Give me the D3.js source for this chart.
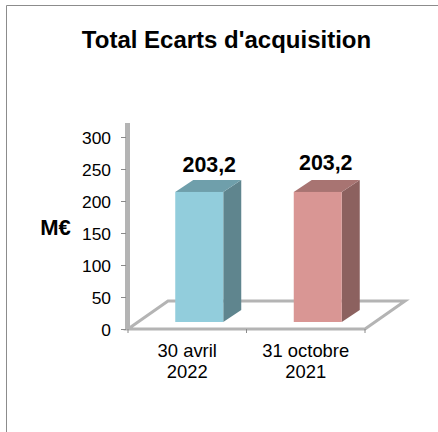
<!DOCTYPE html>
<html>
<head>
<meta charset="utf-8">
<script src="https://cdn.jsdelivr.net/npm/d3@7"></script>
<style>
    html, body { margin: 0; padding: 0; background: #fff; }
    svg { display: block; }
    text { font-family: "Liberation Sans", Arial, sans-serif; fill: #000; }
</style>
</head>
<body>
<div id="chart"></div>
<script>
var categories = [["30 avril", "2022"], ["31 octobre", "2021"]];
var categoryKeys = ["30 avril 2022", "31 octobre 2021"];
var values = [203.2, 203.2];
var valueLabels = ["203,2", "203,2"];
var tickValues = [0, 50, 100, 150, 200, 250, 300];
var frontColors = ["#92cddc", "#d99694"];
var topColors = ["#6f9fab", "#a87472"];
var sideColors = ["#5f858e", "#8c615f"];

var svg = d3.select("#chart")
    .append("svg")
    .attr("width", 438)
    .attr("height", 432);

// outer frame, only top and left show inside the crop
svg.append("path")
    .attr("d", "M6.5,432V5.5H438")
    .attr("fill", "none")
    .attr("stroke", "#8c8c8c")
    .attr("stroke-width", 1);

svg.append("text")
    .attr("x", 226.5)
    .attr("y", 48)
    .attr("text-anchor", "middle")
    .style("font-size", "24px")
    .style("font-weight", "bold")
    .text("Total Ecarts d'acquisition");

var yScale = d3.scaleLinear().domain([0, 300]).range([329, 137]);
var xScale = d3.scaleBand().domain(categoryKeys).range([128, 365]);

var floorDx = 40, floorDy = -28;
var barDx = 18, barDy = -12;
var barInset = 7;
var barWidth = 48;
var labelDx = [0, -2], labelDy = [-8, -10];

// floor
var gridColor = "#b4b4b4";
var x0 = xScale.range()[0], x1 = xScale.range()[1], yBase = yScale(0);
svg.append("path")
    .attr("d", "M" + x0 + "," + yBase + "L" + x1 + "," + yBase +
        "L" + (x1 + floorDx) + "," + (yBase + floorDy) +
        "L" + (x0 + floorDx) + "," + (yBase + floorDy) + "Z")
    .attr("fill", "none")
    .attr("stroke", gridColor)
    .attr("stroke-width", 3);

// wall
svg.append("line")
    .attr("x1", x0 - 0.5)
    .attr("x2", x0 - 0.5)
    .attr("y1", yBase)
    .attr("y2", yScale(300) - 14)
    .attr("stroke", gridColor)
    .attr("stroke-width", 5);

// y axis
var yAxis = d3.axisLeft(yScale)
    .tickValues(tickValues)
    .tickSize(5)
    .tickPadding(10);
var yG = svg.append("g")
    .attr("transform", "translate(126,0)")
    .call(yAxis);
yG.select(".domain").remove();
yG.selectAll("line").attr("stroke", "#8a8a8a");
yG.selectAll("text")
    .attr("dy", "0.35em")
    .style("font-size", "17.4px")
    .style("font-family", '"Liberation Sans", Arial, sans-serif');

// x axis ticks
svg.selectAll("line.xtick")
    .data([x0, (x0 + x1) / 2, x1])
    .enter()
    .append("line")
    .attr("class", "xtick")
    .attr("x1", function (d) { return d; })
    .attr("x2", function (d) { return d; })
    .attr("y1", yBase)
    .attr("y2", yBase + 4)
    .attr("stroke", "#8a8a8a");

// bars
var bars = svg.selectAll("g.bar")
    .data(values)
    .enter()
    .append("g")
    .attr("class", "bar")
    .attr("transform", function (d, i) {
        var left = xScale(categoryKeys[i]) + (xScale.bandwidth() - barWidth) / 2 + 12;
        return "translate(" + left + "," + (-barInset) + ")";
    });

bars.append("path")
    .attr("d", function (d) {
        var top = yScale(d);
        return "M" + barWidth + "," + yBase + "L" + (barWidth + barDx) + "," + (yBase + barDy) +
            "L" + (barWidth + barDx) + "," + (top + barDy) + "L" + barWidth + "," + top + "Z";
    })
    .attr("fill", function (d, i) { return sideColors[i]; });

bars.append("path")
    .attr("d", function (d) {
        var top = yScale(d);
        return "M0," + top + "L" + barWidth + "," + top +
            "L" + (barWidth + barDx) + "," + (top + barDy) + "L" + barDx + "," + (top + barDy) + "Z";
    })
    .attr("fill", function (d, i) { return topColors[i]; });

bars.append("rect")
    .attr("x", 0)
    .attr("y", function (d) { return yScale(d); })
    .attr("width", barWidth)
    .attr("height", function (d) { return yBase - yScale(d); })
    .attr("fill", function (d, i) { return frontColors[i]; });

bars.append("text")
    .attr("x", function (d, i) { return barWidth / 2 + 10 + labelDx[i]; })
    .attr("y", function (d, i) { return yScale(d) + barDy + labelDy[i]; })
    .attr("text-anchor", "middle")
    .style("font-size", "21.4px")
    .style("font-weight", "bold")
    .text(function (d, i) { return valueLabels[i]; });

// category labels, two lines each
var catLabels = svg.selectAll("text.cat")
    .data(categories)
    .enter()
    .append("text")
    .attr("class", "cat")
    .attr("text-anchor", "middle")
    .style("font-size", "18.4px");
catLabels.selectAll("tspan")
    .data(function (d, i) {
        return d.map(function (line) { return {line: line, i: i}; });
    })
    .enter()
    .append("tspan")
    .attr("x", function (d) { return xScale(categoryKeys[d.i]) + xScale.bandwidth() / 2; })
    .attr("y", function (d, j) { return 357 + j * 21; })
    .text(function (d) { return d.line; });

svg.append("text")
    .attr("x", 55.5)
    .attr("y", 235)
    .attr("text-anchor", "middle")
    .style("font-size", "22px")
    .style("font-weight", "bold")
    .text("M€");
</script>
</body>
</html>
